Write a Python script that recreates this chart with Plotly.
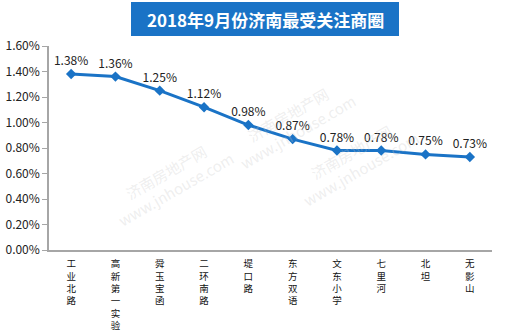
import plotly.graph_objects as go

# 商圈名称与关注度占比（%）
districts = ["工业北路", "高新第一实验", "舜玉宝函", "二环南路", "堤口路",
             "东方双语", "文东小学", "七里河", "北坦", "无影山"]
share = [1.38, 1.36, 1.25, 1.12, 0.98, 0.87, 0.78, 0.78, 0.75, 0.73]
y_ticks = [0, 0.2, 0.4, 0.6, 0.8, 1.0, 1.2, 1.4, 1.6]

blue = "#1a73c6"
font_family = "Noto Sans CJK SC, Microsoft YaHei, sans-serif"

# 竖排的类别标签
vertical = ["<br>".join(name) for name in districts]

fig = go.Figure(go.Scatter(
    x=districts,
    y=share,
    mode="lines+markers+text",
    line=dict(color=blue, width=3),
    marker=dict(symbol="diamond", size=8, color=blue),
    text=[f"{v:.2f}%" for v in share],
    textposition="top center",
    textfont=dict(size=12, color="#222", family=font_family),
    cliponaxis=False,
    hoverinfo="skip",
))

fig.update_layout(
    width=510, height=330,
    margin=dict(l=49, r=18, t=46, b=80, autoexpand=False),
    paper_bgcolor="white", plot_bgcolor="white",
    showlegend=False,
    font=dict(family=font_family, color="#222"),
)

fig.update_xaxes(
    tickmode="array", tickvals=districts, ticktext=vertical,
    tickangle=0,
    tickfont=dict(size=9.5, color="#111",
                  family="Liberation Sans, Noto Sans CJK SC, sans-serif"),
    ticklabelstandoff=4, automargin=False,
    showline=True, linecolor="#a6a6a6", linewidth=1.5,
    showgrid=False, zeroline=False, ticks="",
    range=[-0.5, 9.5],
)
fig.update_yaxes(
    range=[0, 1.6], tickvals=y_ticks,
    ticktext=[f"{v:.2f}%" for v in y_ticks],
    tickfont=dict(size=12, color="#222"),
    automargin=False,
    showline=True, linecolor="#a6a6a6", linewidth=1.5,
    ticks="outside", ticklen=5, tickcolor="#a6a6a6",
    showgrid=False, zeroline=False,
)

# 标题色块
fig.add_shape(type="rect", xref="paper", yref="paper",
              x0=(131 - 49) / 443, x1=(399 - 49) / 443,
              y0=1 + (46 - 36) / 204, y1=1 + (46 - 2) / 204,
              fillcolor=blue, line=dict(width=0), layer="below")
fig.add_annotation(text="<b>2018年9月份济南最受关注商圈</b>",
                   xref="paper", yref="paper",
                   x=(265 - 49) / 443, y=1 + (46 - 19) / 204,
                   showarrow=False, font=dict(size=17, color="white", family=font_family),
                   xanchor="center", yanchor="middle")

# 水印
for wx, wy in [(0.55, 0.62), (0.85, 0.18), (0.12, 0.08)]:
    fig.add_annotation(text="济南房地产网<br>www.jnhouse.com", xref="paper", yref="paper",
                       x=wx, y=wy, showarrow=False, textangle=-30,
                       font=dict(size=15, color="rgba(200,200,200,0.3)", family=font_family))

fig.write_html("out.html")
